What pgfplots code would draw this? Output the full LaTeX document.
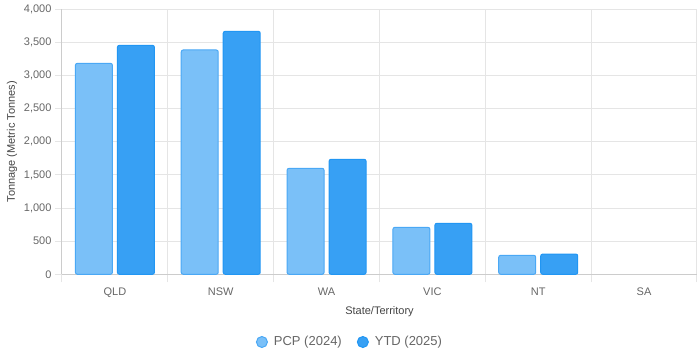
\documentclass[border=0pt]{standalone}
\usepackage{fontspec}
\setmainfont{Liberation Sans}
\usepackage{pgfplots}
\pgfplotsset{compat=1.18}
\definecolor{pcpfill}{HTML}{7AC0F8}
\definecolor{pcpborder}{HTML}{4AA8F5}
\definecolor{ytdfill}{HTML}{37A0F4}
\definecolor{ytdborder}{HTML}{2196F3}
\definecolor{gridc}{HTML}{E5E5E5}
\definecolor{axisc}{HTML}{CCCCCC}
\definecolor{tickc}{HTML}{666666}
\definecolor{titlec}{HTML}{444444}
\begin{document}
\begin{tikzpicture}
\path[use as bounding box] (0,0) rectangle (699pt,354pt);
\begin{axis}[
  at={(62pt,79.7pt)}, anchor=south west,
  scale only axis, width=635pt, height=265pt,
  xmin=-0.5, xmax=5.5, ymin=0, ymax=4000,
  axis x line*=bottom, axis y line*=left,
  axis line style={axisc, line width=1pt, -},
  xtick={0,1,2,3,4,5},
  xticklabels={QLD,NSW,WA,VIC,NT,SA},
  minor xtick={-0.5,0.5,1.5,2.5,3.5,4.5,5.5},
  xminorgrids=true, ymajorgrids=true, xmajorgrids=false,
  ytick={0,500,...,4000},
  scaled y ticks=false,
  /pgf/number format/.cd, 1000 sep={,}, assume math mode=true, /pgfplots/.cd,
  tick align=outside,
  major tick length=7pt, minor tick length=8pt,
  major x tick style={draw=none},
  tick style={gridc, line width=1pt},
  minor x tick style={gridc, line width=1pt},
  grid style={gridc, line width=1pt},
  minor grid style={gridc, line width=1pt},
  ticklabel style={font=\fontsize{11}{13}\selectfont, text=tickc},
  xticklabel style={yshift=-3pt},
  xlabel={State/Territory},
  ylabel={Tonnage (Metric Tonnes)},
  xlabel style={font=\fontsize{11}{13}\selectfont, text=titlec, at={(axis description cs:0.5,-0.141)}, anchor=center},
  ylabel style={font=\fontsize{11}{13}\selectfont, text=titlec, at={(axis description cs:-0.0787,0.5)}, anchor=center, rotate=0},
  ybar=5pt, bar width=37pt,
  legend columns=2,
  legend style={at={(axis description cs:0.4535,-0.2555)}, anchor=center, draw=none, fill=none,
    font=\fontsize{13}{15}\selectfont, text=tickc,
    /tikz/every even column/.append style={column sep=13pt}},
]
\addplot[fill=pcpfill, draw=pcpborder, line width=1pt, rounded corners=2pt,
  legend image code/.code={\filldraw[fill=pcpfill, draw=pcpborder, line width=1pt] (6pt,0pt) circle (5.5pt); \path[draw=none, fill=none] (0pt,0pt) -- (16pt,0pt);}]
  coordinates {(0,3185) (1,3386) (2,1600) (3,709) (4,287)};
\addlegendentry{PCP (2024)}
\addplot[fill=ytdfill, draw=ytdborder, line width=1pt, rounded corners=2pt,
  legend image code/.code={\filldraw[fill=ytdfill, draw=ytdborder, line width=1pt] (6pt,0pt) circle (5.5pt); \path[draw=none, fill=none] (0pt,0pt) -- (16pt,0pt);}]
  coordinates {(0,3457) (1,3668) (2,1736) (3,770) (4,306)};
\addlegendentry{YTD (2025)}
\end{axis}
\end{tikzpicture}
\end{document}
